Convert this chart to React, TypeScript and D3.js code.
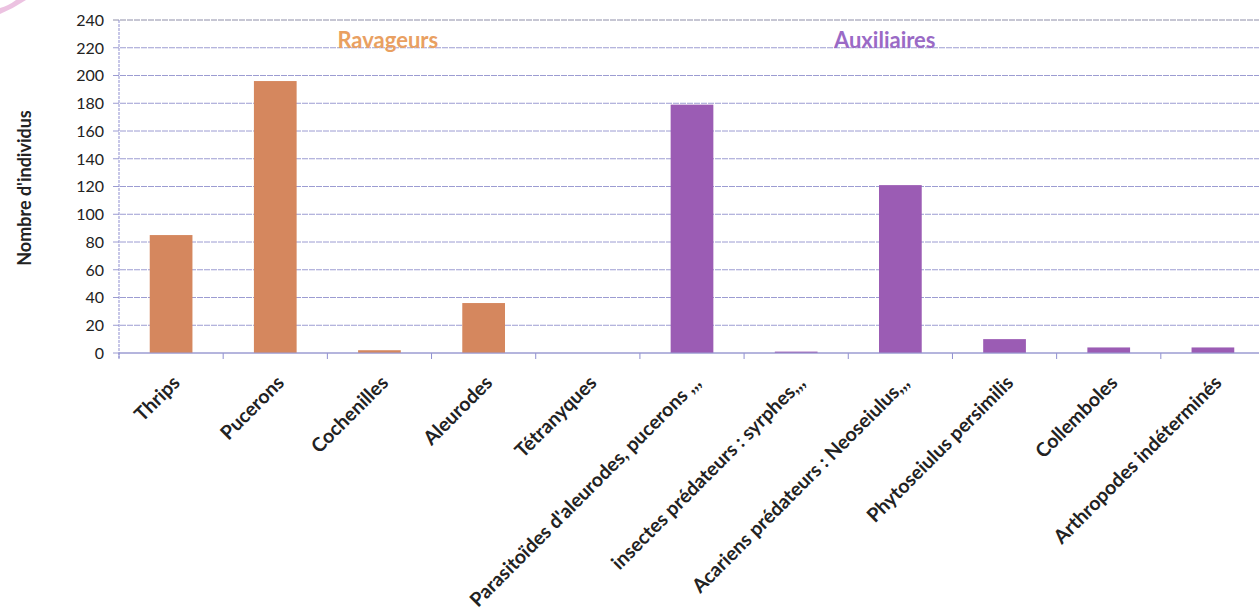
import React from "react";
import * as d3 from "d3";

const categories = [
  "Thrips",
  "Pucerons",
  "Cochenilles",
  "Aleurodes",
  "Tétranyques",
  "Parasitoïdes d'aleurodes, pucerons ,,,",
  "insectes prédateurs : syrphes,,,",
  "Acariens prédateurs : Neoseiulus,,,",
  "Phytoseiulus persimilis",
  "Collemboles",
  "Arthropodes indéterminés",
];
const values = [85, 196, 2, 36, 0, 179, 1, 121, 10, 4, 4];
const groups = ["Ravageurs", "Ravageurs", "Ravageurs", "Ravageurs", "Ravageurs", "Auxiliaires", "Auxiliaires", "Auxiliaires", "Auxiliaires", "Auxiliaires", "Auxiliaires"];
const yTicks = [0, 20, 40, 60, 80, 100, 120, 140, 160, 180, 200, 220, 240];
const groupLabels = ["Ravageurs", "Auxiliaires"];
const groupLabelBands = [2.58, 7.35]; // label centre, in band units from the plot's left edge
const yTitle = "Nombre d'individus";

const W = 1259;
const H = 611;
const M = { left: 119, right: 1265, top: 20, bottom: 353 };
const barColor: Record<string, string> = { Ravageurs: "#D5875E", Auxiliaires: "#9B5CB4" };
const labelColor: Record<string, string> = { Ravageurs: "#E9A062", Auxiliaires: "#9A6AC6" };

export default function App() {
  const x = d3.scaleBand<string>().domain(categories).range([M.left, M.right]).paddingInner(0.59).paddingOuter(0.295);
  const xb = d3.scaleBand<string>().domain(categories).range([M.left, M.right]);
  const y = d3.scaleLinear().domain([0, 240]).range([M.bottom, M.top]);
  const step = xb.step();
  const font = "Lato, 'Open Sans', sans-serif";
  return (
    <svg width={W} height={H} style={{ position: "absolute", left: 0, top: 0, background: "#fff" }}>
      {/* decoration swoosh */}
      <path d="M0,14 Q14,8 26,0 L16,0 Q8,6 0,8 Z" fill="#E7B3DA" opacity={0.8} />
      {/* gridlines */}
      {yTicks.map((t) => (
        <g key={t}>
          <line x1={M.left - 6} x2={W} y1={y(t)} y2={y(t)} stroke={t === 240 ? "#8E8EA8" : "#9C9CD2"} strokeWidth={1} strokeDasharray={t === 0 ? "none" : "6,1"} />
          <text x={104} y={y(t)} dy="0.36em" textAnchor="end" fontFamily={font} fontSize={16} fill="#222">
            {t}
          </text>
        </g>
      ))}
      {/* y axis */}
      <line x1={M.left} x2={M.left} y1={M.top} y2={M.bottom + 5} stroke="#8F8FD0" strokeWidth={1} strokeDasharray="3,1" />
      {/* x axis ticks */}
      {categories.map((c, i) => (
        <line key={"t" + i} x1={xb(c)!} x2={xb(c)!} y1={M.bottom} y2={M.bottom + 6} stroke="#8F8FD0" strokeWidth={1} />
      ))}
      {/* bars */}
      {categories.map((c, i) => (
        <rect key={"b" + i} x={x(c)!} width={x.bandwidth()} y={y(values[i])} height={Math.max(0, y(0) - y(values[i]))} fill={barColor[groups[i]]} />
      ))}
      <line x1={M.left} x2={W} y1={M.bottom} y2={M.bottom} stroke="#9C9CD2" strokeWidth={1.2} />
      {/* group labels */}
      {groupLabels.map((g, i) => (
        <text key={g} x={M.left + groupLabelBands[i] * step} y={48} textAnchor="middle" fontFamily={font} fontWeight={700} fontSize={22} fill={labelColor[g]}>
          {g}
        </text>
      ))}
      {/* category labels */}
      {categories.map((c, i) => {
        const cx = xb(c)! + step / 2 + 10;
        const cy = M.bottom + 31;
        return (
          <text key={"l" + i} transform={`translate(${cx},${cy}) rotate(-45)`} textAnchor="end" fontFamily={font} fontWeight={700} fontSize={19.5} fill="#222">
            {c}
          </text>
        );
      })}
      {/* y title */}
      <text transform={`translate(31,188) rotate(-90)`} textAnchor="middle" fontFamily={font} fontWeight={700} fontSize={18} fill="#222">
        {yTitle}
      </text>
    </svg>
  );
}
